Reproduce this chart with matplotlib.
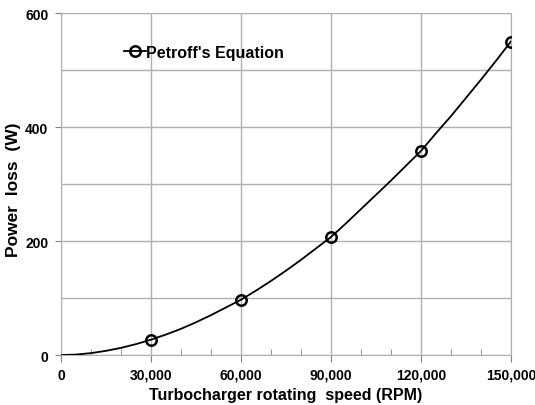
import numpy as np
import matplotlib
matplotlib.use("Agg")
import matplotlib.pyplot as plt
from matplotlib.ticker import MultipleLocator, FuncFormatter

plt.rcParams['font.family'] = ['Liberation Sans', 'DejaVu Sans']
plt.rcParams['font.weight'] = 'bold'

# measured points (markers)
speed = [30000, 60000, 90000, 120000, 150000]
power = [27, 97, 207, 358, 550]

# smooth curve
curve_speed = [0, 5000, 10000, 15000, 20000, 25000, 30000, 35000, 40000, 45000, 50000,
               55000, 60000, 65000, 70000, 75000, 80000, 85000, 90000, 95000, 100000,
               105000, 110000, 115000, 120000, 125000, 130000, 135000, 140000, 145000, 150000]
curve_power = [0, 0.9, 3.4, 7.4, 12.6, 19.2, 27, 36, 46, 57.5, 70,
               83.5, 97, 113, 130, 148, 167, 187, 207, 231, 256,
               281, 306, 332, 358, 389, 419, 451, 483, 516, 550]

fig = plt.figure(figsize=(5.35, 4.06), dpi=100)
ax = fig.add_axes([0.114, 0.123, 0.841, 0.8425])

ax.plot(curve_speed, curve_power, color='black', lw=1.3, zorder=3)
ax.plot(speed, power, ls='none', marker='o', ms=7.5, mfc='none', mec='black', mew=1.8, zorder=4)
# legend proxy
ax.plot([], [], color='black', lw=1.3, marker='o', ms=7.5, mfc='none', mec='black', mew=1.8,
        label="Petroff's Equation")

ax.set_xlim(0, 150000)
ax.set_ylim(0, 600)
ax.xaxis.set_major_locator(MultipleLocator(30000))
ax.xaxis.set_minor_locator(MultipleLocator(10000))
ax.yaxis.set_major_locator(MultipleLocator(200))
ax.yaxis.set_minor_locator(MultipleLocator(100))
ax.xaxis.set_major_formatter(FuncFormatter(lambda v, p: f"{int(v):,}"))

ax.grid(True, which='major', color='#b0b0b0', lw=1)
ax.grid(True, which='minor', axis='y', color='#b0b0b0', lw=1)
ax.tick_params(axis='x', which='major', direction='out', length=5, color='#808080', labelsize=10, pad=4)
ax.tick_params(axis='x', which='minor', direction='in', length=4, color='#808080')
ax.tick_params(axis='y', which='major', direction='out', length=4, color='#808080', labelsize=10, pad=5)
ax.tick_params(axis='y', which='minor', length=0)
for lab in ax.get_xticklabels() + ax.get_yticklabels():
    lab.set_fontweight('bold')
for s in ax.spines.values():
    s.set_color('#b0b0b0')

ax.set_xlabel('Turbocharger rotating  speed (RPM)', fontsize=11.5, fontweight='bold', labelpad=4)
ax.set_ylabel('Power  loss  (W)', fontsize=12.5, fontweight='bold')
ax.yaxis.set_label_coords(-0.089, 0.485)

leg = ax.legend(loc='center left', bbox_to_anchor=(0.14, 0.885), frameon=False, fontsize=11.5,
                handlelength=1.4, handletextpad=0.0, borderaxespad=0, borderpad=0)
for t in leg.get_texts():
    t.set_fontweight('bold')

fig.savefig('out.png', dpi=100)
